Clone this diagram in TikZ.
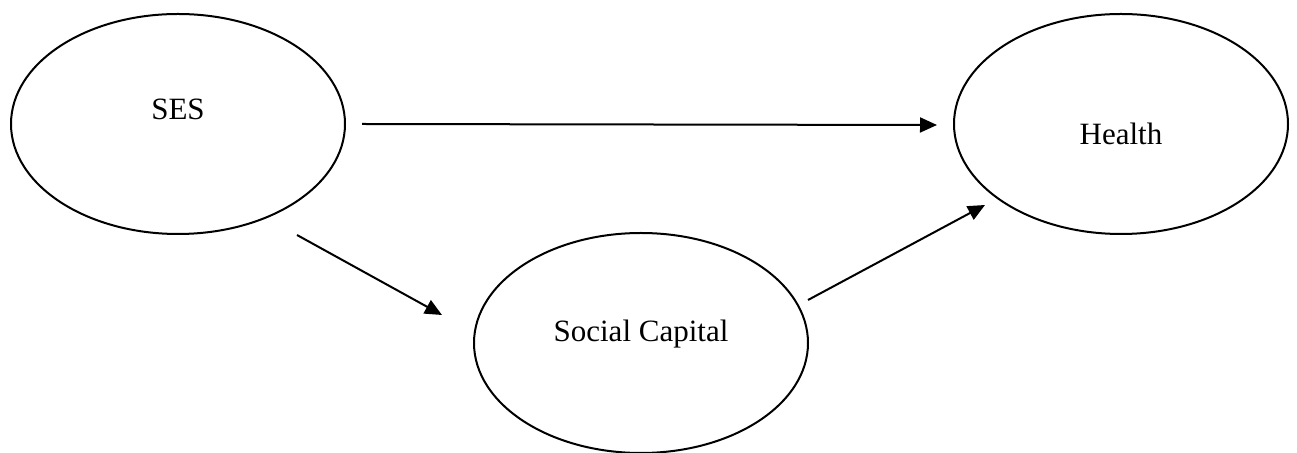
\documentclass[tikz,border=0pt]{standalone}
\usepackage{fontspec}
\setmainfont{Liberation Serif}
\usetikzlibrary{shapes.geometric,arrows.meta,calc}
\tikzset{
  latent/.style={draw, ellipse, line width=1pt, minimum width=167pt, minimum height=110pt, inner sep=0pt},
  lbl/.style={anchor=base, inner sep=0pt, font=\fontsize{15.5pt}{18pt}\selectfont},
  path/.style={line width=1pt, -{Triangle[length=8.5pt,width=7.5pt]}}
}
\begin{document}
\begin{tikzpicture}[x=0.5pt,y=-0.5pt]
\useasboundingbox (0,0) rectangle (1297,453);
\node[latent] (ses) at (178,124) {};
\node[latent] (health) at (1121,124) {};
\node[latent] (sc) at (641,343) {};
\node[lbl] (sesT) at ($(ses.center)+(0,-4)$) {SES};
\node[lbl] (healthT) at ($(health.center)+(0,21)$) {Health};
\node[lbl] (scT) at ($(sc.center)+(0,-1)$) {Social Capital};
\draw[path] ($(ses.center)+(184,0)$) -- ($(health.center)+(-184,1)$);
\draw[path] ($(ses.center)+(119,111)$) -- ($(sc.center)+(-199,-28)$);
\draw[path] ($(sc.center)+(167,-43)$) -- ($(health.center)+(-136,81)$);
\end{tikzpicture}
\end{document}
